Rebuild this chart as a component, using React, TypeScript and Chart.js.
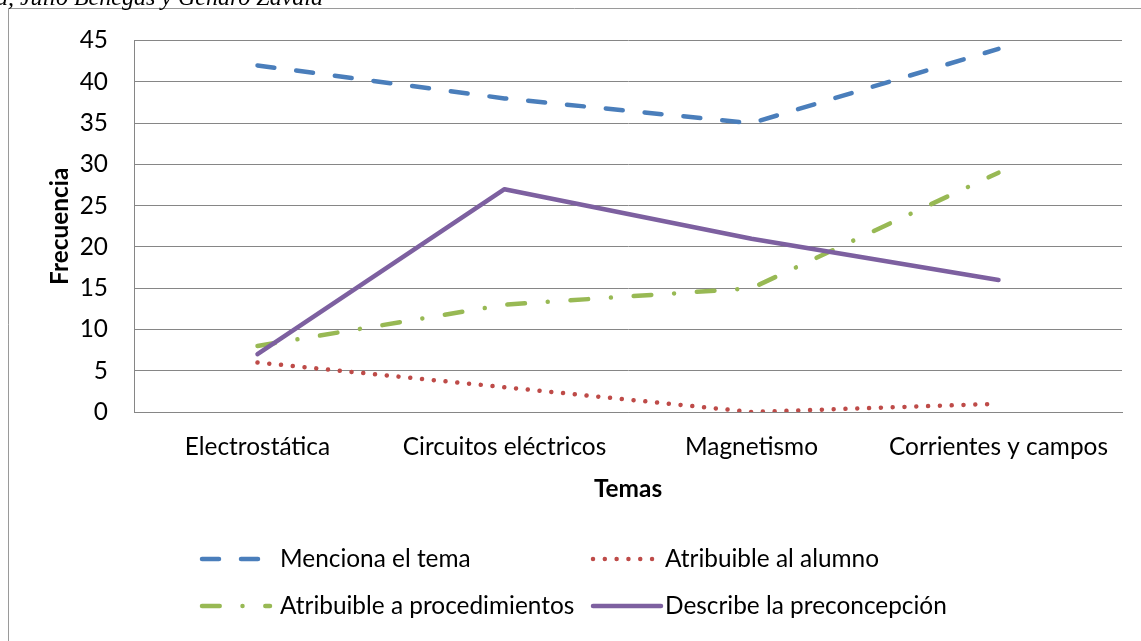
import React, { useEffect, useRef } from "react";
import { Chart, registerables } from "chart.js";

Chart.register(...registerables);

// ---- Data ----
const categories = ["Electrostática", "Circuitos eléctricos", "Magnetismo", "Corrientes y campos"];
const mencionaElTema = [42, 38, 35, 44];
const atribuibleAlAlumno = [6, 3, 0, 1];
const atribuibleAProcedimientos = [8, 13, 15, 29];
const describeLaPreconcepcion = [7, 27, 21, 16];
const seriesLabels = [
  "Menciona el tema",
  "Atribuible al alumno",
  "Atribuible a procedimientos",
  "Describe la preconcepción",
];
const yMin = 0;
const yMax = 45;
const yStep = 5;
const xTitle = "Temas";
const yTitle = "Frecuencia";
const headerText = "a, Julio Benegas y Genaro Zavala";

// ---- Layout / style ----
const W = 1141;
const H = 641;
const AREA = { left: 134, top: 37, right: 1122, bottom: 412 };
const FONT = 'Lato, "Open Sans", sans-serif';
const GRID = "#868686";
const LINE_W = 4.5;

const styles = [
  { color: "#4A7EBB", dash: [17, 22], order: 3 },
  { color: "#BE4B48", dash: [0.01, 11.8], order: 2 },
  { color: "#98B954", dash: [17.7, 22.8, 0.01, 22.8], order: 1 },
  { color: "#7D60A0", dash: [] as number[], order: 0 },
];

const legendPos = [
  { x0: 200, x1: 270, tx: 280, y: 559 },
  { x0: 591, x1: 661, tx: 665, y: 559 },
  { x0: 200, x1: 270, tx: 280, y: 606 },
  { x0: 591, x1: 661, tx: 665, y: 606 },
];

function fitSize(text: string, target: number, weight: string) {
  const c = document.createElement("canvas").getContext("2d")!;
  c.font = `${weight} 100px ${FONT}`;
  return (100 * target) / c.measureText(text).width;
}

export default function App() {
  const ref = useRef<HTMLCanvasElement | null>(null);

  useEffect(() => {
    if (!ref.current) return;
    const size = Math.round(fitSize("Corrientes y campos", 219, "normal") * 10) / 10;
    const lh = size * 1.2;
    const xLabelCenter = 447;
    const xTitleCenter = 489;
    const xPad = xLabelCenter - AREA.bottom - lh / 2;
    const xBottom = xTitleCenter + lh / 2;
    const yTitleCenter = 60;

    const seriesData = [mencionaElTema, atribuibleAlAlumno, atribuibleAProcedimientos, describeLaPreconcepcion];

    const decor = {
      id: "decor",
      beforeDraw(chart: any) {
        const ctx = chart.ctx as CanvasRenderingContext2D;
        ctx.save();
        ctx.fillStyle = "#ffffff";
        ctx.fillRect(0, 0, W, H);
        // outer frame
        ctx.strokeStyle = "#9a9a9a";
        ctx.lineWidth = 1;
        ctx.beginPath();
        ctx.moveTo(8.5, H);
        ctx.lineTo(8.5, 8.5);
        ctx.lineTo(W, 8.5);
        ctx.stroke();
        // header text (cropped)
        ctx.fillStyle = "#000";
        ctx.font = 'italic 24px "Liberation Serif", "Times New Roman", serif';
        ctx.textAlign = "right";
        ctx.textBaseline = "alphabetic";
        ctx.fillText(headerText, 323, 5);
        ctx.restore();
      },
      afterDraw(chart: any) {
        const ctx = chart.ctx as CanvasRenderingContext2D;
        ctx.save();
        seriesLabels.forEach((label, i) => {
          const p = legendPos[i];
          const s = styles[i];
          ctx.strokeStyle = s.color;
          ctx.lineWidth = LINE_W;
          ctx.lineCap = "round";
          ctx.setLineDash(s.dash);
          ctx.beginPath();
          ctx.moveTo(p.x0 + 2, p.y);
          ctx.lineTo(p.x1, p.y);
          ctx.stroke();
          ctx.setLineDash([]);
          ctx.fillStyle = "#000";
          ctx.font = `${size}px ${FONT}`;
          ctx.textAlign = "left";
          ctx.textBaseline = "middle";
          ctx.fillText(label, p.tx, p.y);
        });
        ctx.restore();
      },
    };

    const chart = new Chart(ref.current, {
      type: "line",
      data: {
        labels: categories,
        datasets: seriesData.map((d, i) => ({
          label: seriesLabels[i],
          data: d,
          borderColor: styles[i].color,
          backgroundColor: styles[i].color,
          borderWidth: LINE_W,
          borderDash: styles[i].dash,
          borderCapStyle: "round",
          borderJoinStyle: "round",
          pointRadius: 0,
          pointHoverRadius: 0,
          tension: 0,
          fill: false,
          order: styles[i].order,
        })),
      },
      options: {
        responsive: false,
        animation: false,
        events: [],
        layout: {
          padding: { left: 0, top: AREA.top, right: W - AREA.right, bottom: H - xBottom },
        },
        plugins: {
          legend: { display: false },
          tooltip: { enabled: false },
          title: { display: false },
        },
        scales: {
          x: {
            type: "category",
            offset: true,
            grid: { display: false, drawTicks: false },
            border: { display: true, color: GRID, width: 1 },
            ticks: {
              color: "#000",
              font: { family: FONT, size, lineHeight: 1.2 },
              padding: xPad,
              maxRotation: 0,
              autoSkip: false,
            },
            title: {
              display: true,
              text: xTitle,
              color: "#000",
              font: { family: FONT, size, weight: "bold", lineHeight: 1.2 },
              padding: { top: 0, bottom: 0 },
            },
            afterFit: (s: any) => {
              s.height = xBottom - AREA.bottom;
            },
          },
          y: {
            min: yMin,
            max: yMax,
            ticks: {
              stepSize: yStep,
              color: "#000",
              font: { family: FONT, size, lineHeight: 1.2 },
              padding: 26,
            },
            grid: { color: GRID, lineWidth: 1, drawTicks: false },
            border: { display: true, color: GRID, width: 1 },
            title: {
              display: true,
              text: yTitle,
              color: "#000",
              font: { family: FONT, size, weight: "bold", lineHeight: 1.2 },
              padding: { top: yTitleCenter - lh / 2, bottom: 0 },
            },
            afterFit: (s: any) => {
              s.width = AREA.left;
            },
          },
        },
      } as any,
      plugins: [decor],
    });
    return () => chart.destroy();
  }, []);

  return (
    <div
      style={{
        position: "absolute",
        left: 0,
        top: 0,
        width: W,
        height: H,
        overflow: "hidden",
        background: "#fff",
      }}
    >
      <canvas ref={ref} width={W} height={H} style={{ display: "block" }} />
    </div>
  );
}
